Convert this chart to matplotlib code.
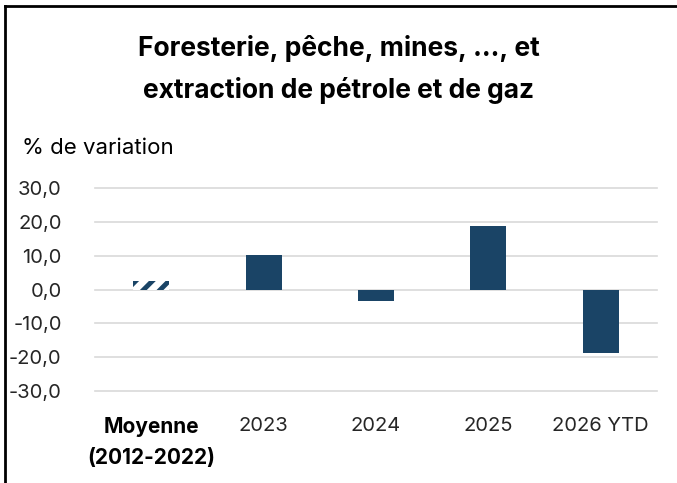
import matplotlib.pyplot as plt
from matplotlib.lines import Line2D

categories = ["Moyenne\n(2012-2022)", "2023", "2024", "2025", "2026 YTD"]
values = [2.6, 10.3, -3.3, 18.9, -18.6]
yticks = [-30, -20, -10, 0, 10, 20, 30]

BAR_COLOR = "#1a4466"

plt.rcParams["font.family"] = ["Inter", "DejaVu Sans"]
plt.rcParams["hatch.linewidth"] = 3.5

fig = plt.figure(figsize=(6.77, 4.83), dpi=100)
ax = fig.add_axes([95 / 677, 1 - 398 / 483, 562 / 677, 210 / 483])

x = list(range(len(categories)))
ax.bar(x[1:], values[1:], width=0.32, color=BAR_COLOR, zorder=3)
ax.bar(x[0], values[0], width=0.32, facecolor="white", edgecolor=BAR_COLOR,
       linewidth=0, hatch="//", zorder=3)

ax.set_xlim(-0.5, 4.5)
ax.set_ylim(-32, 30)
ax.set_yticks(yticks)
ax.set_yticklabels([f"{v:.1f}".replace(".", ",") for v in yticks], fontsize=14.5, color="#262626")
ax.yaxis.grid(True, color="#d9d9d9", linewidth=1.2, zorder=0)
for line in ax.get_ygridlines():
    line.set_clip_on(False)
ax.tick_params(axis="y", length=0, pad=24)
ax.tick_params(axis="x", length=0, pad=14)
ax.set_xticks(x)
ax.set_xticklabels(categories, fontsize=14.5, color="#262626")
lbl = ax.get_xticklabels()[0]
lbl.set_fontweight("bold")
lbl.set_fontsize(15)
lbl.set_color("black")
lbl.set_linespacing(1.65)
for s in ax.spines.values():
    s.set_visible(False)

fig.text(0.5, 1 - 48 / 483, "Foresterie, pêche, mines, ..., et", ha="center", va="center",
         fontsize=19, fontweight="bold")
fig.text(0.5, 1 - 90 / 483, "extraction de pétrole et de gaz", ha="center", va="center",
         fontsize=19, fontweight="bold")
fig.text(22 / 677, 1 - 148 / 483, "% de variation", ha="left", va="center", fontsize=16)

# cadre
fig.add_artist(Line2D([5 / 677, 5 / 677], [0, 1 - 6 / 483], color="black", linewidth=2))
fig.add_artist(Line2D([5 / 677, 1], [1 - 6 / 483, 1 - 6 / 483], color="black", linewidth=2))

fig.savefig("out.png", dpi=100)
